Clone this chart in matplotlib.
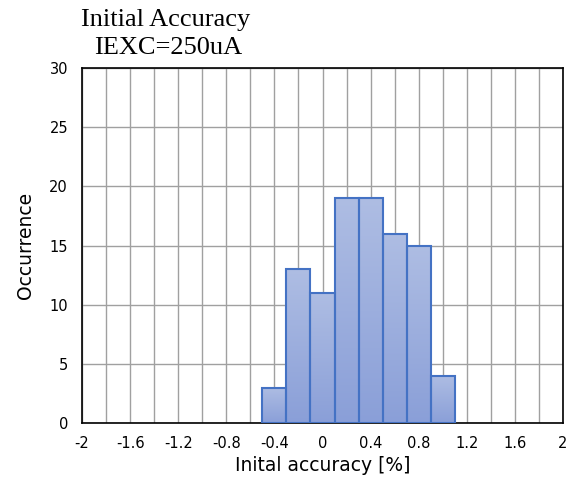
import matplotlib
matplotlib.use("Agg")
import matplotlib.pyplot as plt
import numpy as np
from matplotlib.colors import LinearSegmentedColormap

bin_centers = [-0.4, -0.2, 0.0, 0.2, 0.4, 0.6, 0.8, 1.0]
counts = [3, 13, 11, 19, 19, 16, 15, 4]
bin_width = 0.2
xticks = [-2, -1.6, -1.2, -0.8, -0.4, 0, 0.4, 0.8, 1.2, 1.6, 2]
xticklabels = ["-2", "-1.6", "-1.2", "-0.8", "-0.4", "0", "0.4", "0.8", "1.2", "1.6", "2"]

fig = plt.figure(figsize=(5.78, 4.82), dpi=100)
ax = fig.add_axes([82/578, 1-423/482, (563-82)/578, (423-68)/482])

ax.set_xlim(-2, 2)
ax.set_ylim(0, 30)
ax.set_xticks(xticks)
ax.set_xticklabels(xticklabels, fontsize=10.5)
ax.set_xticks(np.arange(-2, 2.01, 0.2), minor=True)
ax.set_yticks(range(0, 31, 5))
ax.tick_params(axis='both', which='both', length=0, labelsize=10.5)
ax.tick_params(axis='x', pad=9)
ax.tick_params(axis='y', pad=10)
ax.grid(True, which='both', axis='x', color='#a0a0a0', lw=1)
ax.grid(True, which='major', axis='y', color='#a0a0a0', lw=1)
ax.set_axisbelow(True)
for s in ax.spines.values():
    s.set_color('black')
    s.set_linewidth(1.2)

cmap = LinearSegmentedColormap.from_list('g', ['#8a9fd8', '#aebde3'])
grad = np.linspace(0, 1, 256).reshape(-1, 1)
bars = ax.bar(bin_centers, counts, width=bin_width, facecolor='none',
              edgecolor='#4472c4', linewidth=1.5, zorder=3)
for b in bars:
    x0, y0 = b.get_x(), b.get_y()
    w, h = b.get_width(), b.get_height()
    im = ax.imshow(grad, cmap=cmap, aspect='auto', origin='lower',
                   extent=[x0, x0 + w, y0, y0 + h], zorder=2)
    im.set_clip_path(b)
ax.set_xlim(-2, 2)
ax.set_ylim(0, 30)

ax.set_xlabel("Inital accuracy [%]", fontsize=13.5, labelpad=4)
ax.set_ylabel("Occurrence", fontsize=13.5, labelpad=10)

fig.text(166/578, 1-20/482, "Initial Accuracy", fontsize=19,
         family='Liberation Serif', ha='center', va='center')
fig.text(168/578, 1-48/482, "IEXC=250uA", fontsize=19,
         family='Liberation Serif', ha='center', va='center')

fig.savefig("out.png", dpi=100)
